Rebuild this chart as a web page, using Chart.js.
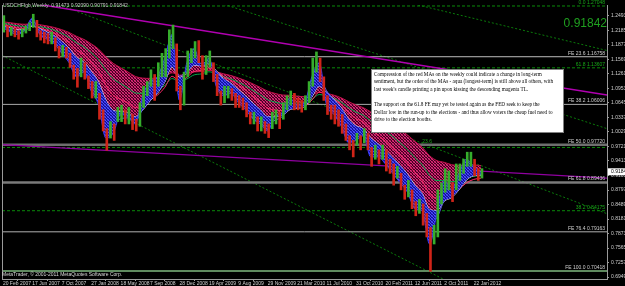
<!DOCTYPE html>
<html>
<head>
<meta charset="utf-8">
<title>USDCHFfgb,Weekly</title>
<script src="https://cdn.jsdelivr.net/npm/chart.js@4.4.1/dist/chart.umd.min.js"></script>
<style>
  html, body { margin: 0; padding: 0; background: #000; }
  #wrap { width: 625px; height: 286px; }
</style>
</head>
<body>
<div id="wrap"><canvas id="chart" width="625" height="286"></canvas></div>
<script>
// x axis counts weeks from 20 Feb 2007
const xTickWeeks = [0, 16, 32, 48, 64, 80, 96, 112, 128, 144, 160, 176, 192, 208, 224, 240, 256];
const xTickLabels = ['20 Feb 2007', '17 Jun 2007', '7 Oct 2007', '27 Jan 2008', '18 May 2008', '7 Sep 2008',
  '28 Dec 2008', '19 Apr 2009', '9 Aug 2009', '29 Nov 2009', '21 Mar 2010', '11 Jul 2010', '31 Oct 2010',
  '20 Feb 2011', '12 Jun 2011', '2 Oct 2011', '22 Jan 2012'];
const yTicks = [0.6949, 0.7257, 0.7565, 0.7873, 0.8181, 0.8489, 0.8797, 0.9105, 0.9413, 0.9721,
  1.0029, 1.0337, 1.0645, 1.0953, 1.1261, 1.1569, 1.1877, 1.2185, 1.2493];

const ohlc = [0.91473, 0.92090, 0.90791, 0.91842];

// price, two-week bins (high / low)
const binHigh = [1.250, 1.228, 1.225, 1.222, 1.218, 1.222, 1.228, 1.235, 1.253, 1.240, 1.218, 1.215, 1.212, 1.215, 1.203, 1.185, 1.187, 1.183, 1.170, 1.145, 1.138, 1.160, 1.150,
  1.122, 1.110, 1.110, 1.085, 1.050, 1.010, 1.025, 1.020, 1.055, 1.060, 1.050, 1.055, 1.040, 1.030, 1.065, 1.100, 1.110, 1.135, 1.125, 1.150, 1.170, 1.180, 1.220, 1.230, 1.190, 1.100,
  1.130, 1.175, 1.180, 1.195, 1.197, 1.165, 1.165, 1.175, 1.150, 1.125, 1.090, 1.100, 1.100, 1.095, 1.085, 1.080, 1.075, 1.065, 1.045, 1.045, 1.035, 1.035, 1.025, 1.020, 1.045, 1.050,
  1.045, 1.065, 1.080, 1.090, 1.085, 1.075, 1.070, 1.080, 1.110, 1.160, 1.173, 1.160, 1.120, 1.080, 1.060, 1.060, 1.050, 1.040, 1.020, 0.995, 0.985, 1.000, 0.995, 1.010, 1.000, 0.970,
  0.975, 0.965, 0.975, 0.965, 0.945, 0.935, 0.930, 0.915, 0.890, 0.900, 0.880, 0.855, 0.860, 0.850, 0.830, 0.800, 0.805, 0.880, 0.895, 0.925, 0.920, 0.895, 0.935, 0.935, 0.945, 0.960,
  0.960, 0.945, 0.925, 0.925];
const binLow = [1.215, 1.205, 1.208, 1.205, 1.200, 1.205, 1.213, 1.218, 1.225, 1.205, 1.198, 1.192, 1.190, 1.190, 1.175, 1.160, 1.163, 1.160, 1.140, 1.115, 1.098, 1.120, 1.115,
  1.095, 1.075, 1.075, 1.030, 1.005, 0.964, 0.990, 0.985, 1.025, 1.025, 1.020, 1.020, 1.008, 1.005, 1.015, 1.055, 1.080, 1.100, 1.070, 1.100, 1.120, 1.120, 1.160, 1.180, 1.090, 1.050,
  1.060, 1.120, 1.150, 1.160, 1.150, 1.115, 1.125, 1.140, 1.110, 1.080, 1.060, 1.065, 1.075, 1.070, 1.055, 1.055, 1.050, 1.035, 1.020, 1.020, 1.005, 1.005, 1.000, 0.991, 1.010, 1.020,
  1.010, 1.030, 1.050, 1.060, 1.050, 1.050, 1.045, 1.050, 1.065, 1.100, 1.130, 1.110, 1.070, 1.040, 1.030, 1.020, 1.015, 1.000, 0.985, 0.965, 0.950, 0.975, 0.965, 0.980, 0.965, 0.930,
  0.945, 0.935, 0.945, 0.920, 0.915, 0.890, 0.905, 0.880, 0.860, 0.865, 0.840, 0.825, 0.830, 0.805, 0.780, 0.707, 0.765, 0.780, 0.850, 0.875, 0.880, 0.855, 0.880, 0.900, 0.915, 0.930,
  0.930, 0.910, 0.900, 0.905];

// moving averages, one value every 4 weeks
const blueFast = [1.225, 1.215, 1.210, 1.220, 1.245, 1.210, 1.200, 1.190, 1.170, 1.150,
  1.120, 1.130, 1.090, 1.060, 0.990, 1.000, 1.040, 1.035, 1.020, 1.080,
  1.110, 1.120, 1.160, 1.210, 1.070, 1.150, 1.180, 1.140, 1.160, 1.100,
  1.080, 1.085, 1.065, 1.050, 1.030, 1.020, 1.005, 1.035, 1.045, 1.075,
  1.060, 1.065, 1.120, 1.150, 1.060, 1.040, 1.015, 0.980, 0.985, 0.995,
  0.950, 0.950, 0.935, 0.915, 0.895, 0.875, 0.840, 0.835, 0.765, 0.830,
  0.900, 0.880, 0.915, 0.945, 0.930, 0.915];
const blueSlow = [1.228, 1.222, 1.2165, 1.218, 1.2305, 1.221, 1.2115, 1.2016, 1.187, 1.170,
  1.147, 1.139, 1.1165, 1.0905, 1.0443, 1.024, 1.031, 1.033, 1.027, 1.0514,
  1.0784, 1.0975, 1.1263, 1.1648, 1.1212, 1.1344, 1.1554, 1.1483, 1.1537, 1.129,
  1.1065, 1.0966, 1.0821, 1.0673, 1.0501, 1.0363, 1.0219, 1.0279, 1.0358, 1.0538,
  1.0567, 1.0605, 1.0879, 1.1165, 1.0905, 1.0673, 1.0432, 1.0141, 1.0007, 0.9981,
  0.976, 0.964, 0.9507, 0.9343, 0.9162, 0.8972, 0.8709, 0.8544, 0.8133, 0.821,
  0.8573, 0.8677, 0.8895, 0.915, 0.9219, 0.9187];
const whiteMa = [1.2284, 1.2242, 1.2197, 1.2198, 1.2278, 1.2222, 1.2152, 1.2072, 1.1954, 1.181,
  1.1617, 1.1517, 1.1321, 1.1092, 1.0714, 1.0488, 1.046, 1.0425, 1.0354, 1.0495,
  1.0687, 1.085, 1.1088, 1.1409, 1.1184, 1.1284, 1.1448, 1.1433, 1.1486, 1.1332,
  1.1163, 1.1064, 1.0933, 1.0796, 1.0639, 1.05, 1.0357, 1.0355, 1.0385, 1.0501,
  1.0532, 1.0569, 1.0769, 1.1001, 1.0874, 1.0724, 1.0542, 1.0307, 1.0162, 1.0095,
  0.9906, 0.9777, 0.9642, 0.9486, 0.9316, 0.9137, 0.8903, 0.8728, 0.8386, 0.8359,
  0.8562, 0.8637, 0.88, 0.9006, 0.9099, 0.9115];
const redMid = [1.2305, 1.2272, 1.2236, 1.2228, 1.2275, 1.2238, 1.2188, 1.2128, 1.2038, 1.1925,
  1.1773, 1.1674, 1.1511, 1.132, 1.1022, 1.0807, 1.0722, 1.0644, 1.0551, 1.0603,
  1.0707, 1.0811, 1.0977, 1.1213, 1.1105, 1.1188, 1.1317, 1.1334, 1.139, 1.1308,
  1.1201, 1.1127, 1.1027, 1.0916, 1.0787, 1.0664, 1.0535, 1.0496, 1.0486, 1.0541,
  1.0553, 1.0573, 1.0705, 1.0872, 1.0815, 1.0728, 1.0607, 1.0438, 1.0315, 1.0238,
  1.0083, 0.9961, 0.9833, 0.969, 0.9535, 0.937, 0.9166, 0.8995, 0.8713, 0.8626,
  0.8705, 0.8725, 0.8814, 0.8948, 0.9022, 0.9049];
const greenMa = [1.2337, 1.2312, 1.2283, 1.2272, 1.2296, 1.227, 1.2234, 1.2189, 1.2123, 1.2039,
  1.1926, 1.1841, 1.1714, 1.1564, 1.1339, 1.1158, 1.1056, 1.0961, 1.0858, 1.085,
  1.0884, 1.0927, 1.1018, 1.1164, 1.1101, 1.1155, 1.1242, 1.1263, 1.1308, 1.1266,
  1.1203, 1.1155, 1.1087, 1.1008, 1.0912, 1.0816, 1.0713, 1.0664, 1.0635, 1.0651,
  1.0644, 1.0645, 1.072, 1.0825, 1.0795, 1.0742, 1.0662, 1.0546, 1.0452, 1.0384,
  1.0265, 1.0162, 1.0052, 0.993, 0.9798, 0.9657, 0.9487, 0.9334, 0.9107, 0.8998,
  0.8998, 0.8971, 0.8995, 0.9056, 0.9089, 0.9097];
const redSlow = [1.2369, 1.2350, 1.2328, 1.2317, 1.2328, 1.2308, 1.2282, 1.2249, 1.2202, 1.2142,
  1.2061, 1.1996, 1.1902, 1.179, 1.1627, 1.1487, 1.1394, 1.1304, 1.1209, 1.1174,
  1.1168, 1.1171, 1.1208, 1.1285, 1.1235, 1.1258, 1.1304, 1.1312, 1.1337, 1.1308,
  1.1264, 1.1228, 1.1178, 1.112, 1.1049, 1.0976, 1.0896, 1.0849, 1.0815, 1.0809,
  1.0791, 1.0779, 1.0815, 1.0874, 1.085, 1.0811, 1.0754, 1.0672, 1.0601, 1.0545,
  1.0455, 1.0373, 1.0285, 1.0187, 1.0081, 0.9966, 0.9831, 0.9704, 0.9527, 0.9421,
  0.9385, 0.9335, 0.9319, 0.933, 0.933, 0.9315];

// fibo objects
const feLevels = [1.1627, 1.0615, 0.9758, 0.8955, 0.7909, 0.7075];
const feLabels = ['FE 23.6 1.16758', 'FE 38.2 1.06006', 'FE 50.0 0.97720', 'FE 61.8 0.89436', 'FE 76.4 0.79163', 'FE 100.0 0.70418'];
const fibLevels = [1.2705, 1.1392, 0.9701, 0.8357];
const fibLabels = ['0.0 1.27048', '61.8 1.13607', '', '38.2 0.84175'];

// trend lines, [week, price] end points
const magentaUpper = [[-0.5, 1.2863], [328.5, 1.0815]];
const magentaLower = [[-0.5, 0.9762], [328.5, 0.9050]];
const channelLines = [
  [[225.7, 1.2726], [328.5, 1.1760]],
  [[118.1, 1.2768], [328.5, 1.0100]],
  [[28.3, 1.2768], [328.5, 0.8294]],
  [[-0.5, 1.1655], [240.4, 0.6886]]
];

const noteLines = [
  'Compression of the red MAs on the weekly could indicate a change in long-term',
  'sentiment, but the order of the MAs - aqua (longest-term) is still above all others, with',
  'last week\'s candle printing a pin upon kissing the descending magenta TL.',
  '',
  'The support on the 61.8 FE may yet be tested again as the FED seek to keep the',
  'Dollar low in the run-up to the elections - and thus allow voters the cheap fuel need to',
  'drive to the election booths.'
];

const weekMin = -0.5, weekMax = 328.5;
const maStep = 4;

function hatch(base, a, b) {
  const c = document.createElement('canvas');
  c.width = 3; c.height = 3;
  const g = c.getContext('2d');
  g.fillStyle = base;
  g.fillRect(0, 0, 3, 3);
  g.fillStyle = a;
  g.fillRect(0, 0, 1, 1); g.fillRect(1, 1, 1, 1); g.fillRect(2, 2, 1, 1);
  g.fillStyle = b;
  g.fillRect(2, 0, 1, 1); g.fillRect(0, 2, 1, 1);
  return g.createPattern(c, 'repeat');
}

const maPoints = arr => arr.map((v, i) => ({ x: i * maStep, y: v }));
const segPoints = seg => seg.map(p => ({ x: p[0], y: p[1] }));
const hLine = v => [{ x: weekMin, y: v }, { x: weekMax, y: v }];

function lineSet(data, color, width, order, extra) {
  return Object.assign({
    type: 'line', data: data, borderColor: color, borderWidth: width,
    pointRadius: 0, fill: false, order: order, tension: 0
  }, extra || {});
}

// price bars
const barColors = binHigh.map((h, i) => {
  if (i === 0) return '#36ad2c';
  return (h + binLow[i]) >= (binHigh[i - 1] + binLow[i - 1]) ? '#36ad2c' : '#d02418';
});

const blueHatch = hatch('#14149a', '#5050ff', '#2a2ad0');
const redHatch = hatch('rgba(80,0,36,0.9)', '#e0307e', '#a01050');

const datasets = [];
datasets.push({
  type: 'bar',
  data: binHigh.map((h, i) => ({ x: i * 2 + 0.5, y: [binLow[i], h] })),
  backgroundColor: barColors, borderWidth: 0, barThickness: 2, order: 0
});
// index 1..6
datasets.push(lineSet(maPoints(blueFast), '#3a3aff', 1, 1, {
  cubicInterpolationMode: 'monotone',
  fill: { target: 3, above: blueHatch, below: blueHatch }
}));
datasets.push(lineSet(maPoints(blueSlow), '#6060ff', 1, 2, { cubicInterpolationMode: 'monotone' }));
datasets.push(lineSet(maPoints(whiteMa), '#ececec', 1, 3, { cubicInterpolationMode: 'monotone' }));
datasets.push(lineSet(maPoints(redMid), '#ff2a6a', 1, 4, { cubicInterpolationMode: 'monotone' }));
datasets.push(lineSet(maPoints(greenMa), '#00a84a', 1, 5, { cubicInterpolationMode: 'monotone' }));
datasets.push(lineSet(maPoints(redSlow), '#c01048', 1, 6, {
  cubicInterpolationMode: 'monotone',
  fill: { target: 3, above: redHatch, below: redHatch }
}));

// horizontal levels
const feStyle = [
  { c: '#bdbdbd', w: 1 }, { c: '#a8a8a8', w: 1 }, { c: '#6e6e6e', w: 2.5 },
  { c: '#7a7a7a', w: 2.5 }, { c: '#b0b0b0', w: 1 }, { c: '#5f8a5f', w: 2 }
];
feLevels.forEach((v, i) => datasets.push(lineSet(hLine(v), feStyle[i].c, feStyle[i].w, 20)));
fibLevels.forEach(v => datasets.push(lineSet(hLine(v), '#0a8a0a', 1, 21, { borderDash: [3, 2] })));
channelLines.forEach(seg => datasets.push(lineSet(segPoints(seg), '#0a7a0a', 1, 22, { borderDash: [2, 2] })));
datasets.push(lineSet(segPoints(magentaUpper), '#b000b0', 1.5, 19));
datasets.push(lineSet(segPoints(magentaLower), '#9000a0', 1.2, 19));

const mtOverlay = {
  id: 'mtOverlay',
  beforeDraw(chart) {
    const ctx = chart.ctx;
    ctx.save();
    ctx.fillStyle = '#000';
    ctx.fillRect(0, 0, chart.width, chart.height);
    ctx.restore();
  },
  afterDatasetsDraw(chart) {
    const { ctx, chartArea: a, scales: { x, y } } = chart;
    ctx.save();

    // left frame
    ctx.strokeStyle = '#9a9a9a';
    ctx.lineWidth = 1;
    ctx.beginPath();
    ctx.moveTo(a.left + 0.5, a.top);
    ctx.lineTo(a.left + 0.5, a.bottom);
    ctx.stroke();

    // level labels
    ctx.font = '5px "Liberation Sans"';
    ctx.textAlign = 'right';
    ctx.textBaseline = 'bottom';
    feLevels.forEach((v, i) => {
      ctx.fillStyle = '#cfcfcf';
      ctx.fillText(feLabels[i], a.right - 2, y.getPixelForValue(v) - 1);
    });
    fibLevels.forEach((v, i) => {
      if (!fibLabels[i]) return;
      ctx.fillStyle = '#18a818';
      ctx.fillText(fibLabels[i], a.right - 2, y.getPixelForValue(v) - 1);
    });
    ctx.textAlign = 'left';
    ctx.fillStyle = '#18a818';
    ctx.fillText('23.6', x.getPixelForValue(228), y.getPixelForValue(fibLevels[2]) - 3);

    // symbol line
    ctx.fillStyle = '#c8c8c8';
    ctx.textBaseline = 'middle';
    ctx.fillText('USDCHFfgb,Weekly  ' + ohlc.map(v => v.toFixed(5)).join(' '), 3, 6);

    // big bid
    ctx.font = '12px "Liberation Sans"';
    ctx.textAlign = 'right';
    ctx.textBaseline = 'alphabetic';
    ctx.fillStyle = '#1f9f1f';
    ctx.fillText(ohlc[3].toFixed(5), a.right, 27);

    // footer
    ctx.font = '5px "Liberation Sans"';
    ctx.textAlign = 'left';
    ctx.textBaseline = 'middle';
    ctx.fillStyle = '#d8d8d8';
    ctx.fillText('MetaTrader, \u00a9 2001-2011 MetaQuotes Software Corp.', 2, a.bottom - 4);

    // comment box
    ctx.fillStyle = '#ffffff';
    ctx.fillRect(372, 70, 191, 62);
    ctx.strokeStyle = '#808080';
    ctx.strokeRect(371.5, 69.5, 192, 63);
    ctx.fillStyle = '#000';
    ctx.font = '5.2px "Liberation Serif"';
    noteLines.forEach((t, i) => ctx.fillText(t, 374, 74.5 + i * 7.6));

    // bid tag on price axis
    const py = y.getPixelForValue(ohlc[3]);
    ctx.fillStyle = '#ffffff';
    ctx.fillRect(a.right + 1, py - 3.5, 20, 7);
    ctx.fillStyle = '#000';
    ctx.font = '5px "Liberation Sans"';
    ctx.fillText(ohlc[3].toFixed(5), a.right + 4, py);
    ctx.restore();
  }
};

Chart.defaults.font.family = '"Liberation Sans", Arial, sans-serif';

new Chart(document.getElementById('chart'), {
  type: 'line',
  data: { datasets: datasets },
  options: {
    responsive: false,
    animation: false,
    devicePixelRatio: 1,
    events: [],
    layout: { padding: { left: 2, top: 2, right: 0, bottom: 0 } },
    plugins: { legend: { display: false }, tooltip: { enabled: false } },
    scales: {
      x: {
        type: 'linear', min: weekMin, max: weekMax, offset: false,
        grid: { display: true, drawOnChartArea: false, drawTicks: true, tickLength: 2, color: '#9a9a9a' },
        border: { display: true, color: '#9a9a9a' },
        afterBuildTicks: s => { s.ticks = xTickWeeks.map(v => ({ value: v })); },
        afterFit: s => { s.height = 7; },
        ticks: {
          autoSkip: false, maxRotation: 0, minRotation: 0, align: 'start', padding: 0,
          color: '#d0d0d0', font: { size: 5 },
          callback: (v, i) => xTickLabels[i]
        }
      },
      y: {
        type: 'linear', position: 'right', min: 0.6907, max: 1.2726,
        grid: { display: true, drawOnChartArea: false, drawTicks: true, tickLength: 2, color: '#9a9a9a' },
        border: { display: true, color: '#9a9a9a' },
        afterBuildTicks: s => { s.ticks = yTicks.map(v => ({ value: v })); },
        afterFit: s => { s.width = 18; },
        ticks: {
          autoSkip: false, padding: 2, color: '#d0d0d0', font: { size: 5 },
          callback: v => v.toFixed(5)
        }
      }
    }
  },
  plugins: [mtOverlay]
});
</script>
</body>
</html>
